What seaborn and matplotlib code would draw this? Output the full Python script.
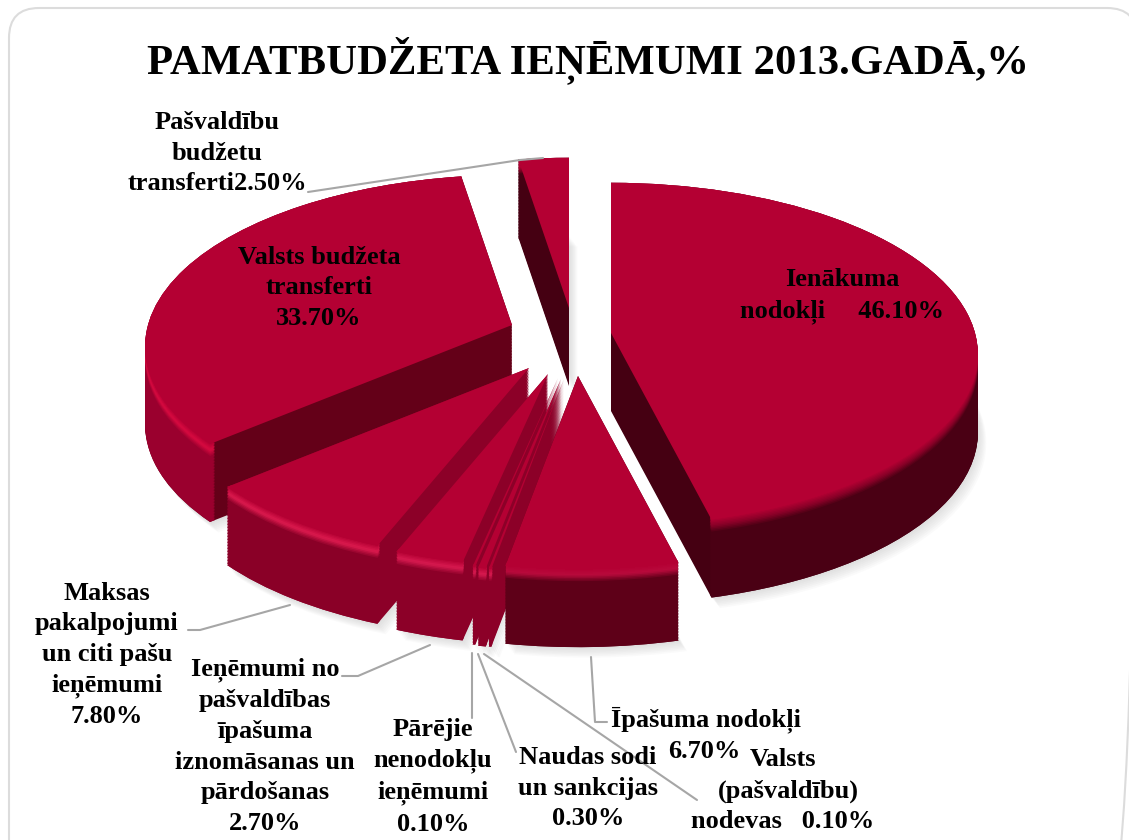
import numpy as np
import matplotlib
matplotlib.use('Agg')
import matplotlib.pyplot as plt
import matplotlib.transforms as mtransforms
from matplotlib.patches import FancyBboxPatch
import seaborn as sns

#data, clockwise from the top of the pie
share_names = ['Ienākuma nodokļi', 'Īpašuma nodokļi', 'Valsts (pašvaldību) nodevas', 'Naudas sodi un sankcijas',
               'Pārējie nenodokļu ieņēmumi', 'Ieņēmumi no pašvaldības īpašuma iznomāsanas un pārdošanas',
               'Maksas pakalpojumi un citi pašu ieņēmumi', 'Valsts budžeta transferti', 'Pašvaldību budžetu transferti']
shares = [46.1, 6.7, 0.1, 0.3, 0.1, 2.7, 7.8, 33.7, 2.5]

#pull out of each slice, as the pixel where its tip sits
tip_x = [611, 578, 564, 561, 558, 548, 529, 512, 569]
tip_y = [333, 376, 379, 379, 378, 374, 368, 325, 308]
#back to front
draw_order = [2, 9, 8, 7, 6, 5, 4, 3, 1]

top_color = '#b40033'
cut_colors = ['#450012', '#5e0018', '#8c0028', '#8c0028', '#8c0028', '#8c0028', '#8c0028', '#640018', '#450012']
rim_colors = ['#4a0014', '#5e0018', '#8c0028', '#8c0028', '#8c0028', '#8c0028', '#8a0027', '#9a002e', '#450012']
shine_colors = ['#8a0028', '#b80a3c', '#d81a50', '#d81a50', '#d81a50', '#d81a50', '#dc1a4e', '#d80a40', '#b40033']

RX, RY, TILT = 364, 169, 0.125
DEPTH = 78
STEP = 1.5


class Tilted(mtransforms.Transform):
    #unit pie -> pixels, lying on its back and seen from the front
    input_dims = 2
    output_dims = 2

    def __init__(self, tx, ty):
        super().__init__()
        self.tx = tx
        self.ty = ty

    def transform_non_affine(self, values):
        values = np.asarray(values)
        s = 1 / (1 + TILT * values[:, 1])
        return np.column_stack([self.tx + RX * values[:, 0] * s, self.ty - RY * values[:, 1] * s])


sns.set_theme(style='white')
plt.rcParams['font.family'] = ['Liberation Serif', 'DejaVu Serif']

fig = plt.figure(figsize=(11.29, 8.4), dpi=100)
ax = fig.add_axes([0, 0, 1, 1])


def layer(depth, colors, zshift, dx=0, width=None, alpha=None):
    props = {'linewidth': 0}
    if width is not None:
        props['width'] = width
    wedges, _ = ax.pie(shares, startangle=90, counterclock=False, colors=colors, wedgeprops=props)
    for i, w in enumerate(wedges):
        w.set_transform(Tilted(tip_x[i] + dx, tip_y[i] + depth) + ax.transData)
        w.set_zorder(draw_order[i] + zshift)
        if alpha is not None:
            w.set_alpha(alpha)
            w.set_zorder(0.5)


#soft shadow on the white
for k in range(1, 8):
    layer(DEPTH + k * 1.5, ['#808080'] * len(shares), 0, dx=k * 1.2, alpha=0.035)

levels = np.arange(DEPTH, -STEP, -STEP)

#cut faces
for n, d in enumerate(levels):
    layer(d, cut_colors, n * 0.001)

#outer rim, with the rounded edge at the top
bevel = 10
ramps = [sns.blend_palette([rim_colors[i], shine_colors[i], top_color], bevel) for i in range(len(shares))]
for n, d in enumerate(levels):
    if d >= bevel * STEP:
        colors = rim_colors
    else:
        idx = bevel - 1 - int(d / STEP)
        colors = [ramps[i][idx] for i in range(len(shares))]
    layer(d, colors, 0.2 + n * 0.001, width=0.015)

#top faces
layer(0, [top_color] * len(shares), 0.5)

#frame
ax.add_patch(FancyBboxPatch((9, 8), 1128, 900, boxstyle='round,pad=0,rounding_size=30',
                            facecolor='none', edgecolor='#dcdcdc', linewidth=1.5, zorder=20))

#leader lines
leaders = [([308, 520, 543], [192, 160, 158]),
           ([188, 200, 290], [630, 630, 605]),
           ([342, 358, 430], [676, 676, 645]),
           ([472, 472], [653, 718]),
           ([478, 516], [654, 752]),
           ([484, 697], [654, 800]),
           ([591, 595, 607], [657, 722, 722])]
for lx, ly in leaders:
    ax.plot(lx, ly, color='#a6a6a6', linewidth=1.5, zorder=15)

ax.text(588, 60, 'PAMATBUDŽETA IEŅĒMUMI 2013.GADĀ,%', fontsize=30.8, fontweight='bold',
        color='black', ha='center', va='center', zorder=30)

labels = [(842, 296, 'Ienākuma\nnodokļi     46.10%'),
          (706, 720, 'Īpašuma nodokļi'),
          (704, 751, '6.70%'),
          (783, 760, 'Valsts'),
          (788, 791, '(pašvaldību)'),
          (783, 822, 'nodevas   0.10%'),
          (588, 788, 'Naudas sodi\nun sankcijas\n0.30%'),
          (433, 777, 'Pārējie\nnenodokļu\nieņēmumi\n0.10%'),
          (265, 746, 'Ieņēmumi no\npašvaldības\nīpašuma\niznomāsanas un\npārdošanas\n2.70%'),
          (107, 655, 'Maksas\npakalpojumi\nun citi pašu\nieņēmumi\n7.80%'),
          (319, 288, 'Valsts budžeta\ntransferti\n33.70%'),
          (217, 153, 'Pašvaldību\nbudžetu\ntransferti2.50%')]
for lx, ly, txt in labels:
    ax.text(lx, ly, txt, fontsize=19, fontweight='bold', color='black', ha='center', va='center',
            linespacing=1.42, zorder=30)

ax.set_aspect('auto')
ax.set_xlim(0, 1129)
ax.set_ylim(840, 0)
ax.axis('off')

fig.savefig('out.png', dpi=100, facecolor='white')
